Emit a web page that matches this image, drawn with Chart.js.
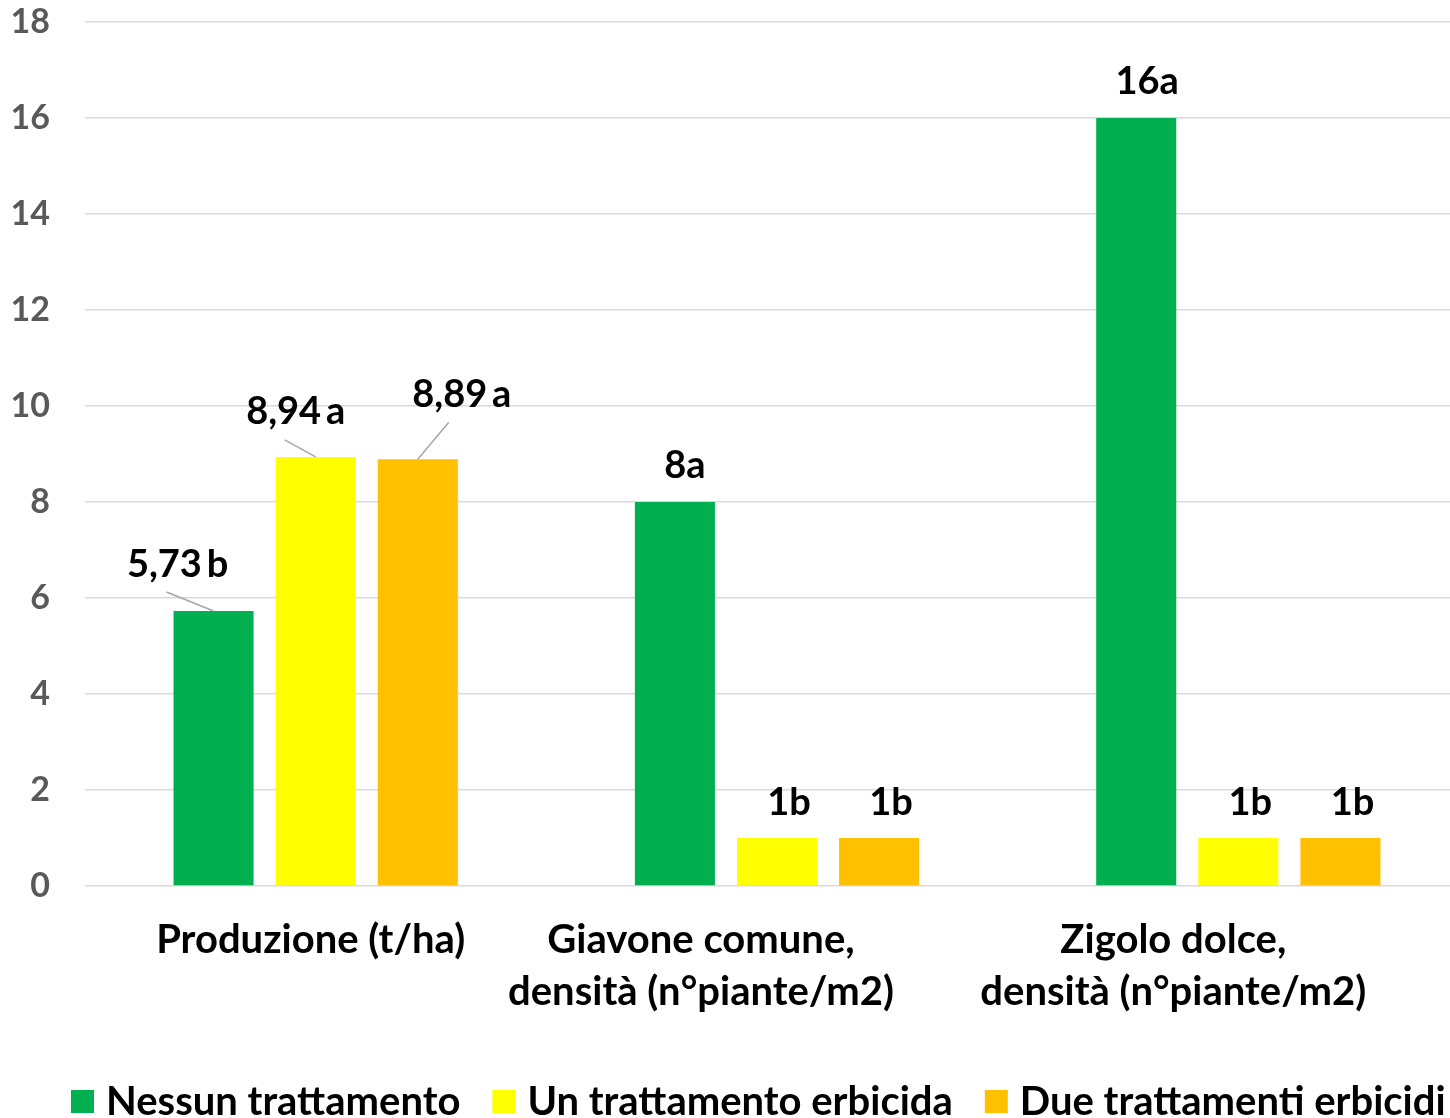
<!DOCTYPE html>
<html>
<head>
<meta charset="utf-8">
<title>Produzione e densità infestanti</title>
<script src="https://cdn.jsdelivr.net/npm/chart.js@4/dist/chart.umd.min.js"></script>
<style>
  html, body { margin: 0; padding: 0; background: #fff; overflow: hidden; }
  #wrap { width: 1470px; height: 1118px; position: relative; }
</style>
</head>
<body>
<div id="wrap"><canvas id="chart"></canvas></div>
<script>
// data
const categories = [
  ['Produzione (t/ha)'],
  ['Giavone comune,', 'densità (n°piante/m2)'],
  ['Zigolo dolce,', 'densità (n°piante/m2)']
];
const seriesNames = ['Nessun trattamento', 'Un trattamento erbicida', 'Due trattamenti erbicidi'];
const nessunValues = [5.73, 8, 16];
const unValues = [8.94, 1, 1];
const dueValues = [8.89, 1, 1];
const nessunLetters = ['b', 'a', 'a'];
const unLetters = ['a', 'b', 'b'];
const dueLetters = ['a', 'b', 'b'];
const yMin = 0;
const yMax = 18;
const yStep = 2;

const colors = ['#00b050', '#ffff00', '#ffc000'];
const FONT = 'Lato, "Open Sans", sans-serif';

// where each value label sits relative to the top of its bar
// [dx, dy] for the text centre, and optional leader line start
const labelPlacement = [
  [ { dx: -36, dy: -46, line: [-47, -19] }, { dx: 10, dy: -36 }, { dx: 11, dy: -36 } ],
  [ { dx: -20, dy: -45, line: [-31, -17] }, { dx: 12, dy: -35 }, { dx: 12, dy: -35 } ],
  [ { dx: 44,  dy: -65, line: [31, -37] },  { dx: 12, dy: -35 }, { dx: 12, dy: -35 } ]
];
// category labels are not quite centred under their groups
const categoryShift = [-5, -76, -65];

function formatValue(v, letter) {
  let s = String(v).replace('.', ',');
  if (!Number.isInteger(v)) s += '\u2009';
  return s + letter;
}

// value labels above bars
const barLabels = {
  id: 'barLabels',
  afterDatasetsDraw(chart) {
    const ctx = chart.ctx;
    ctx.save();
    ctx.font = 'bold 38px ' + FONT;
    ctx.fillStyle = '#000';
    ctx.textAlign = 'center';
    ctx.textBaseline = 'middle';
    chart.data.datasets.forEach((ds, d) => {
      const meta = chart.getDatasetMeta(d);
      meta.data.forEach((bar, i) => {
        const p = labelPlacement[d][i];
        if (p.line) {
          ctx.strokeStyle = '#a6a6a6';
          ctx.lineWidth = 1.5;
          ctx.beginPath();
          ctx.moveTo(bar.x + p.line[0], bar.y + p.line[1]);
          ctx.lineTo(bar.x, bar.y);
          ctx.stroke();
        }
        ctx.fillText(formatValue(ds.data[i], ds.letters[i]), bar.x + p.dx, bar.y + p.dy);
      });
    });
    ctx.restore();
  }
};

// category names under the x axis
const categoryLabels = {
  id: 'categoryLabels',
  afterDraw(chart) {
    const ctx = chart.ctx;
    const xScale = chart.scales.x;
    ctx.save();
    ctx.font = 'bold 40px ' + FONT;
    ctx.fillStyle = '#000';
    ctx.textAlign = 'center';
    ctx.textBaseline = 'middle';
    chart.data.labels.forEach((lines, i) => {
      const x = xScale.getPixelForValue(i) + categoryShift[i];
      lines.forEach((line, j) => {
        ctx.fillText(line, x, chart.chartArea.bottom + 54 + j * 52);
      });
    });
    ctx.restore();
  }
};

// legend at the bottom, drawn by hand
const bottomLegend = {
  id: 'bottomLegend',
  afterDraw(chart) {
    const ctx = chart.ctx;
    ctx.save();
    ctx.font = 'bold 40px ' + FONT;
    ctx.textBaseline = 'alphabetic';
    ctx.textAlign = 'left';
    let x = 71;
    chart.data.datasets.forEach((ds) => {
      ctx.fillStyle = ds.backgroundColor;
      ctx.fillRect(x, 1090, 23, 23);
      ctx.fillStyle = '#000';
      ctx.fillText(ds.label, x + 35, 1115);
      x += 35 + ctx.measureText(ds.label).width + 32;
    });
    ctx.restore();
  }
};

const data = {
  labels: categories,
  datasets: [
    { label: seriesNames[0], data: nessunValues, letters: nessunLetters, backgroundColor: colors[0] },
    { label: seriesNames[1], data: unValues, letters: unLetters, backgroundColor: colors[1] },
    { label: seriesNames[2], data: dueValues, letters: dueLetters, backgroundColor: colors[2] }
  ]
};

const config = {
  type: 'bar',
  data: data,
  options: {
    responsive: true,
    maintainAspectRatio: false,
    animation: false,
    categoryPercentage: 0.664,
    barPercentage: 0.784,
    layout: { padding: { top: 22, right: 1, bottom: 80, left: 0 } },
    plugins: {
      legend: { display: false },
      tooltip: { enabled: false }
    },
    scales: {
      x: {
        grid: { display: false, drawTicks: false },
        border: { display: false },
        ticks: { display: false },
        afterFit(scale) {
          scale.height = 1118 - 80 - 886;
          scale.paddingLeft = 0;
          scale.paddingRight = 0;
        }
      },
      y: {
        min: yMin,
        max: yMax,
        grid: { color: '#d9d9d9', lineWidth: 1.5, drawTicks: false },
        border: { display: false },
        ticks: {
          stepSize: yStep,
          color: '#595959',
          padding: 35,
          font: { family: FONT, size: 34, weight: 'bold' }
        },
        afterFit(scale) {
          scale.width = 85;
          scale.paddingTop = 0;
          scale.paddingBottom = 0;
        }
      }
    }
  },
  plugins: [barLabels, categoryLabels, bottomLegend]
};

const chart = new Chart(document.getElementById('chart'), config);
</script>
</body>
</html>
